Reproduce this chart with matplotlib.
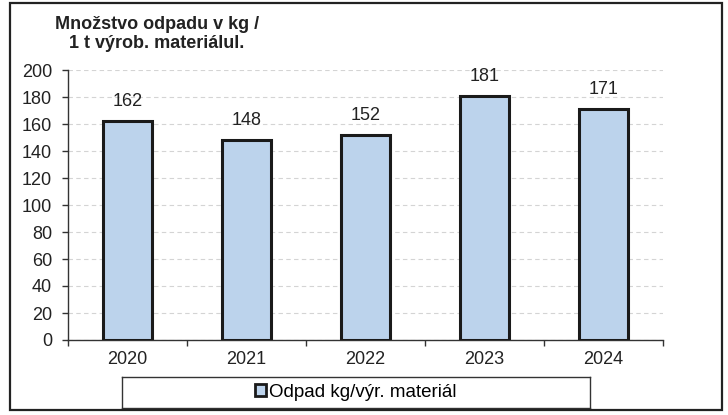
import matplotlib
matplotlib.use("Agg")
import matplotlib.pyplot as plt
from matplotlib.patches import Rectangle, Patch

years = ["2020", "2021", "2022", "2023", "2024"]
values = [162, 148, 152, 181, 171]
yticks = [0, 20, 40, 60, 80, 100, 120, 140, 160, 180, 200]
title = "Množstvo odpadu v kg /\n1 t výrob. materiálul."
legend_label = "Odpad kg/výr. materiál"

plt.rcParams['font.family'] = ['Liberation Sans', 'DejaVu Sans']

W, H = 728, 415
fig = plt.figure(figsize=(W / 100, H / 100), dpi=100)
fig.patch.set_facecolor("white")

# outer frame
fig.add_artist(Rectangle((10 / W, 1 - 410 / H), 712 / W, 407 / H,
                         transform=fig.transFigure, fill=False,
                         edgecolor="#222222", linewidth=1.6))

ax = fig.add_axes([68 / W, 1 - 340 / H, (663 - 68) / W, (340 - 70) / H])
x = list(range(len(years)))
ax.bar(x, values, width=0.41, color="#bcd3ec", edgecolor="#1a1a1a",
       linewidth=2.2, zorder=3)
for xi, v in zip(x, values):
    ax.text(xi, v + 11, str(v), ha="center", va="baseline", fontsize=13,
            color="#222222")

ax.set_xlim(-0.5, len(years) - 0.5)
ax.set_ylim(0, 200)
ax.set_yticks(yticks)
ax.set_yticklabels([str(t) for t in yticks], fontsize=13, color="#222222")
ax.set_xticks(x)
ax.set_xticklabels(years, fontsize=13, color="#222222")
ax.tick_params(axis="x", length=0, pad=8)
ax.tick_params(axis="y", length=4.5, width=1, color="#333333", pad=7)
# category boundary ticks
ax.set_xticks([i - 0.5 for i in range(len(years) + 1)], minor=True)
ax.tick_params(axis="x", which="minor", length=4.5, width=1, color="#333333")

for s in ["top", "right"]:
    ax.spines[s].set_visible(False)
ax.spines["left"].set_color("#333333")
ax.spines["bottom"].set_color("#333333")
ax.spines["left"].set_linewidth(1)
ax.spines["bottom"].set_linewidth(1)
ax.yaxis.grid(True, color="#d4d4d4", linestyle=(0, (4, 3)), linewidth=0.8,
              zorder=0)
ax.set_axisbelow(True)

fig.text(157 / W, 1 - 34 / H, title, ha="center", va="center",
         fontsize=13, fontweight="bold", color="#222222", linespacing=1.15)

handle = Patch(facecolor="#bcd3ec", edgecolor="#1a1a1a", linewidth=2)
leg_ax = fig.add_axes([122 / W, 1 - 408 / H, (590 - 122) / W, 31 / H])
leg_ax.set_xticks([])
leg_ax.set_yticks([])
for s in leg_ax.spines.values():
    s.set_color("#333333")
    s.set_linewidth(1)
leg_ax.legend([handle], [legend_label], loc="center", frameon=False,
              fontsize=13.5, handlelength=0.6, handleheight=0.6,
              handletextpad=0.15)

fig.savefig("out.png", dpi=100, facecolor="white")
